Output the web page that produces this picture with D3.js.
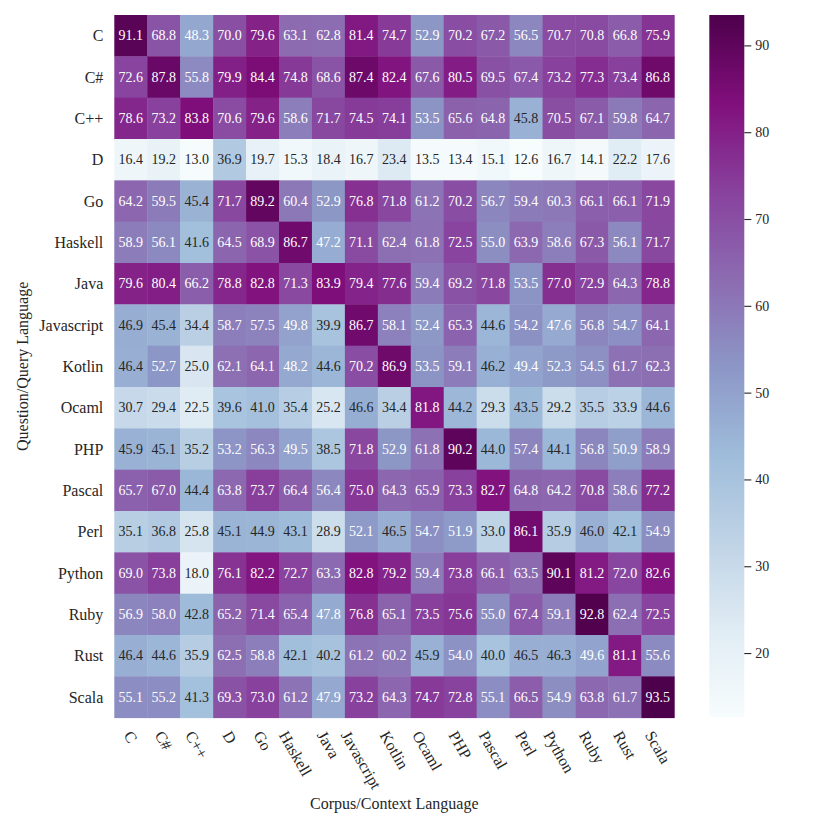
<!DOCTYPE html>
<html>
<head>
<meta charset="utf-8">
<title>Heatmap</title>
<script src="https://cdn.jsdelivr.net/npm/d3@7"></script>
<style>
body { margin: 0; background: #fff; }
text { font-family: "Liberation Serif", "DejaVu Serif", serif; fill: #262626; }
.cell-label { font-size: 14px; }
.tick-label { font-size: 16px; }
.axis-title { font-size: 16px; }
.cbar text { font-size: 14px; font-family: "Liberation Serif", serif; fill: #262626; }
</style>
</head>
<body>
<script>
// languages on both axes
var queryLangs = ["C", "C#", "C++", "D", "Go", "Haskell", "Java", "Javascript", "Kotlin",
  "Ocaml", "PHP", "Pascal", "Perl", "Python", "Ruby", "Rust", "Scala"];
var corpusLangs = ["C", "C#", "C++", "D", "Go", "Haskell", "Java", "Javascript", "Kotlin",
  "Ocaml", "PHP", "Pascal", "Perl", "Python", "Ruby", "Rust", "Scala"];

// one row per query language, one value per corpus language
var rowC          = [91.1, 68.8, 48.3, 70.0, 79.6, 63.1, 62.8, 81.4, 74.7, 52.9, 70.2, 67.2, 56.5, 70.7, 70.8, 66.8, 75.9];
var rowCSharp     = [72.6, 87.8, 55.8, 79.9, 84.4, 74.8, 68.6, 87.4, 82.4, 67.6, 80.5, 69.5, 67.4, 73.2, 77.3, 73.4, 86.8];
var rowCpp        = [78.6, 73.2, 83.8, 70.6, 79.6, 58.6, 71.7, 74.5, 74.1, 53.5, 65.6, 64.8, 45.8, 70.5, 67.1, 59.8, 64.7];
var rowD          = [16.4, 19.2, 13.0, 36.9, 19.7, 15.3, 18.4, 16.7, 23.4, 13.5, 13.4, 15.1, 12.6, 16.7, 14.1, 22.2, 17.6];
var rowGo         = [64.2, 59.5, 45.4, 71.7, 89.2, 60.4, 52.9, 76.8, 71.8, 61.2, 70.2, 56.7, 59.4, 60.3, 66.1, 66.1, 71.9];
var rowHaskell    = [58.9, 56.1, 41.6, 64.5, 68.9, 86.7, 47.2, 71.1, 62.4, 61.8, 72.5, 55.0, 63.9, 58.6, 67.3, 56.1, 71.7];
var rowJava       = [79.6, 80.4, 66.2, 78.8, 82.8, 71.3, 83.9, 79.4, 77.6, 59.4, 69.2, 71.8, 53.5, 77.0, 72.9, 64.3, 78.8];
var rowJavascript = [46.9, 45.4, 34.4, 58.7, 57.5, 49.8, 39.9, 86.7, 58.1, 52.4, 65.3, 44.6, 54.2, 47.6, 56.8, 54.7, 64.1];
var rowKotlin     = [46.4, 52.7, 25.0, 62.1, 64.1, 48.2, 44.6, 70.2, 86.9, 53.5, 59.1, 46.2, 49.4, 52.3, 54.5, 61.7, 62.3];
var rowOcaml      = [30.7, 29.4, 22.5, 39.6, 41.0, 35.4, 25.2, 46.6, 34.4, 81.8, 44.2, 29.3, 43.5, 29.2, 35.5, 33.9, 44.6];
var rowPHP        = [45.9, 45.1, 35.2, 53.2, 56.3, 49.5, 38.5, 71.8, 52.9, 61.8, 90.2, 44.0, 57.4, 44.1, 56.8, 50.9, 58.9];
var rowPascal     = [65.7, 67.0, 44.4, 63.8, 73.7, 66.4, 56.4, 75.0, 64.3, 65.9, 73.3, 82.7, 64.8, 64.2, 70.8, 58.6, 77.2];
var rowPerl       = [35.1, 36.8, 25.8, 45.1, 44.9, 43.1, 28.9, 52.1, 46.5, 54.7, 51.9, 33.0, 86.1, 35.9, 46.0, 42.1, 54.9];
var rowPython     = [69.0, 73.8, 18.0, 76.1, 82.2, 72.7, 63.3, 82.8, 79.2, 59.4, 73.8, 66.1, 63.5, 90.1, 81.2, 72.0, 82.6];
var rowRuby       = [56.9, 58.0, 42.8, 65.2, 71.4, 65.4, 47.8, 76.8, 65.1, 73.5, 75.6, 55.0, 67.4, 59.1, 92.8, 62.4, 72.5];
var rowRust       = [46.4, 44.6, 35.9, 62.5, 58.8, 42.1, 40.2, 61.2, 60.2, 45.9, 54.0, 40.0, 46.5, 46.3, 49.6, 81.1, 55.6];
var rowScala      = [55.1, 55.2, 41.3, 69.3, 73.0, 61.2, 47.9, 73.2, 64.3, 74.7, 72.8, 55.1, 66.5, 54.9, 63.8, 61.7, 93.5];

var rows = [rowC, rowCSharp, rowCpp, rowD, rowGo, rowHaskell, rowJava, rowJavascript, rowKotlin,
  rowOcaml, rowPHP, rowPascal, rowPerl, rowPython, rowRuby, rowRust, rowScala];

var colorbarTicks = [20, 30, 40, 50, 60, 70, 80, 90];

// layout
var W = 830, H = 830;
var hm = {left: 114.3, top: 15, right: 674.3, bottom: 717.7};
var cb = {left: 709.3, right: 744.3, top: 15, bottom: 717.3};

var svg = d3.select("body").append("svg")
    .attr("width", W)
    .attr("height", H);

var x = d3.scaleBand().domain(corpusLangs).range([hm.left, hm.right]);
var y = d3.scaleBand().domain(queryLangs).range([hm.top, hm.bottom]);

var allVals = d3.merge(rows);
var vmin = d3.min(allVals), vmax = d3.max(allVals);

// matplotlib BuPu (ColorBrewer 9 class, linear)
var bupu = ["#f7fcfd", "#e0ecf4", "#bfd3e6", "#9ebcda", "#8c96c6", "#8c6bb1", "#88419d", "#810f7c", "#4d004b"];
var color = d3.scaleLinear()
    .domain(bupu.map(function(d, i) { return vmin + (vmax - vmin) * i / (bupu.length - 1); }))
    .range(bupu)
    .interpolate(d3.interpolateRgb);

// seaborn picks text colour from the luminance of the cell colour
function luminance(c) {
  var rgb = d3.rgb(c);
  var lin = [rgb.r, rgb.g, rgb.b].map(function(v) {
    v = v / 255;
    return v <= 0.03928 ? v / 12.92 : Math.pow((v + 0.055) / 1.055, 2.4);
  });
  return 0.2126 * lin[0] + 0.7152 * lin[1] + 0.0722 * lin[2];
}

var cells = [];
rows.forEach(function(r, i) {
  r.forEach(function(v, j) {
    cells.push({q: queryLangs[i], c: corpusLangs[j], v: v});
  });
});

var g = svg.append("g");
g.selectAll("rect.cell")
  .data(cells)
  .enter().append("rect")
    .attr("class", "cell")
    .attr("x", function(d) { return x(d.c); })
    .attr("y", function(d) { return y(d.q); })
    .attr("width", x.bandwidth() + 0.4)
    .attr("height", y.bandwidth() + 0.4)
    .attr("fill", function(d) { return color(d.v); });

g.selectAll("text.cell-label")
  .data(cells)
  .enter().append("text")
    .attr("class", "cell-label")
    .attr("x", function(d) { return x(d.c) + x.bandwidth() / 2; })
    .attr("y", function(d) { return y(d.q) + y.bandwidth() / 2; })
    .attr("text-anchor", "middle")
    .attr("dominant-baseline", "central")
    .style("fill", function(d) { return luminance(color(d.v)) > 0.408 ? "#262626" : "#ffffff"; })
    .text(function(d) { return d.v.toFixed(1); });

// y tick labels
svg.append("g").selectAll("text")
  .data(queryLangs)
  .enter().append("text")
    .attr("class", "tick-label")
    .attr("x", hm.left - 11)
    .attr("y", function(d) { return y(d) + y.bandwidth() / 2; })
    .attr("text-anchor", "end")
    .attr("dominant-baseline", "central")
    .text(function(d) { return d; });

// x tick labels, rotated 60deg, bbox centred on the tick (matplotlib style)
var ang = 60, rad = ang * Math.PI / 180, lineH = 17, labTop = 728;
svg.append("g").selectAll("text")
  .data(corpusLangs)
  .enter().append("text")
    .attr("class", "tick-label")
    .attr("text-anchor", "middle")
    .attr("dominant-baseline", "central")
    .text(function(d) { return d; })
    .each(function(d) {
      var L = this.getComputedTextLength();
      var bh = L * Math.sin(rad) + lineH * Math.cos(rad);
      var cx = x(d) + x.bandwidth() / 2, cy = labTop + bh / 2;
      d3.select(this).attr("transform", "translate(" + cx + "," + cy + ") rotate(" + ang + ")");
    });

// axis titles
svg.append("text")
    .attr("class", "axis-title")
    .attr("x", (hm.left + hm.right) / 2)
    .attr("y", 809)
    .attr("text-anchor", "middle")
    .text("Corpus/Context Language");

svg.append("text")
    .attr("class", "axis-title")
    .attr("transform", "translate(28," + (hm.top + hm.bottom) / 2 + ") rotate(-90)")
    .attr("text-anchor", "middle")
    .text("Question/Query Language");

// colorbar
var defs = svg.append("defs");
var grad = defs.append("linearGradient")
    .attr("id", "cbgrad")
    .attr("x1", 0).attr("y1", 1).attr("x2", 0).attr("y2", 0);
grad.selectAll("stop")
  .data(color.domain())
  .enter().append("stop")
    .attr("offset", function(d) { return (d - vmin) / (vmax - vmin); })
    .attr("stop-color", function(d) { return color(d); });

svg.append("rect")
    .attr("x", cb.left)
    .attr("y", cb.top)
    .attr("width", cb.right - cb.left)
    .attr("height", cb.bottom - cb.top)
    .attr("fill", "url(#cbgrad)");

var cbScale = d3.scaleLinear().domain([vmin, vmax]).range([cb.bottom, cb.top]);
var cbAxis = svg.append("g")
    .attr("class", "cbar")
    .attr("transform", "translate(" + cb.right + ",0)")
    .call(d3.axisRight(cbScale).tickValues(colorbarTicks).tickSize(7).tickPadding(4));
cbAxis.select(".domain").remove();
cbAxis.selectAll("line").attr("stroke", "#262626").attr("stroke-width", 1.1);
</script>
</body>
</html>
